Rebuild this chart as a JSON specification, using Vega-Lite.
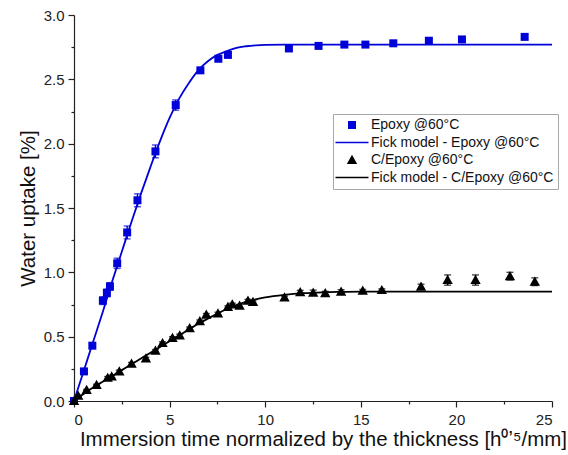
{
  "$schema": "https://vega.github.io/schema/vega-lite/v6.json",
  "width": 478,
  "height": 386,
  "autosize": {"type": "none"},
  "padding": {"left": 74, "top": 15, "right": 16, "bottom": 54},
  "background": "white",
  "config": {
    "view": {"stroke": null},
    "font": "Liberation Sans",
    "axis": {
      "grid": false,
      "domainColor": "#222222",
      "domainWidth": 1.2,
      "tickColor": "#222222",
      "tickWidth": 1.2,
      "labelColor": "#222222",
      "titleColor": "#111111",
      "labelFont": "Liberation Sans",
      "titleFont": "Liberation Sans",
      "labelFontSize": 15,
      "titleFontSize": 20.5,
      "titleFontWeight": "normal"
    }
  },
  "datasets": {
    "points": [
      {"series": "Epoxy @60°C", "t": 0.0, "uptake": 0.0, "err": 0.0},
      {"series": "Epoxy @60°C", "t": 0.52, "uptake": 0.23, "err": 0.02},
      {"series": "Epoxy @60°C", "t": 0.96, "uptake": 0.43, "err": 0.02},
      {"series": "Epoxy @60°C", "t": 1.51, "uptake": 0.78, "err": 0.03},
      {"series": "Epoxy @60°C", "t": 1.72, "uptake": 0.84, "err": 0.03},
      {"series": "Epoxy @60°C", "t": 1.88, "uptake": 0.89, "err": 0.03},
      {"series": "Epoxy @60°C", "t": 2.26, "uptake": 1.07, "err": 0.04},
      {"series": "Epoxy @60°C", "t": 2.78, "uptake": 1.31, "err": 0.05},
      {"series": "Epoxy @60°C", "t": 3.32, "uptake": 1.56, "err": 0.05},
      {"series": "Epoxy @60°C", "t": 4.26, "uptake": 1.94, "err": 0.05},
      {"series": "Epoxy @60°C", "t": 5.32, "uptake": 2.30, "err": 0.04},
      {"series": "Epoxy @60°C", "t": 6.61, "uptake": 2.57, "err": 0.02},
      {"series": "Epoxy @60°C", "t": 7.55, "uptake": 2.66, "err": 0.02},
      {"series": "Epoxy @60°C", "t": 8.05, "uptake": 2.69, "err": 0.02},
      {"series": "Epoxy @60°C", "t": 11.24, "uptake": 2.74, "err": 0.02},
      {"series": "Epoxy @60°C", "t": 12.79, "uptake": 2.76, "err": 0.01},
      {"series": "Epoxy @60°C", "t": 14.14, "uptake": 2.77, "err": 0.01},
      {"series": "Epoxy @60°C", "t": 15.24, "uptake": 2.77, "err": 0.01},
      {"series": "Epoxy @60°C", "t": 16.70, "uptake": 2.78, "err": 0.01},
      {"series": "Epoxy @60°C", "t": 18.56, "uptake": 2.80, "err": 0.015},
      {"series": "Epoxy @60°C", "t": 20.29, "uptake": 2.81, "err": 0.015},
      {"series": "Epoxy @60°C", "t": 23.57, "uptake": 2.83, "err": 0.015},
      {"series": "C/Epoxy @60°C", "t": 0.0, "uptake": 0.0, "err": 0.0},
      {"series": "C/Epoxy @60°C", "t": 0.22, "uptake": 0.04, "err": 0.005},
      {"series": "C/Epoxy @60°C", "t": 0.66, "uptake": 0.085, "err": 0.005},
      {"series": "C/Epoxy @60°C", "t": 1.18, "uptake": 0.125, "err": 0.005},
      {"series": "C/Epoxy @60°C", "t": 1.76, "uptake": 0.18, "err": 0.01},
      {"series": "C/Epoxy @60°C", "t": 1.97, "uptake": 0.19, "err": 0.01},
      {"series": "C/Epoxy @60°C", "t": 2.37, "uptake": 0.23, "err": 0.01},
      {"series": "C/Epoxy @60°C", "t": 3.01, "uptake": 0.29, "err": 0.01},
      {"series": "C/Epoxy @60°C", "t": 3.76, "uptake": 0.33, "err": 0.01},
      {"series": "C/Epoxy @60°C", "t": 4.26, "uptake": 0.39, "err": 0.01},
      {"series": "C/Epoxy @60°C", "t": 4.63, "uptake": 0.45, "err": 0.01},
      {"series": "C/Epoxy @60°C", "t": 5.15, "uptake": 0.49, "err": 0.01},
      {"series": "C/Epoxy @60°C", "t": 5.53, "uptake": 0.51, "err": 0.01},
      {"series": "C/Epoxy @60°C", "t": 6.05, "uptake": 0.565, "err": 0.01},
      {"series": "C/Epoxy @60°C", "t": 6.58, "uptake": 0.62, "err": 0.01},
      {"series": "C/Epoxy @60°C", "t": 6.92, "uptake": 0.67, "err": 0.01},
      {"series": "C/Epoxy @60°C", "t": 7.53, "uptake": 0.68, "err": 0.01},
      {"series": "C/Epoxy @60°C", "t": 8.05, "uptake": 0.73, "err": 0.01},
      {"series": "C/Epoxy @60°C", "t": 8.28, "uptake": 0.75, "err": 0.01},
      {"series": "C/Epoxy @60°C", "t": 8.66, "uptake": 0.74, "err": 0.01},
      {"series": "C/Epoxy @60°C", "t": 9.10, "uptake": 0.78, "err": 0.01},
      {"series": "C/Epoxy @60°C", "t": 9.36, "uptake": 0.77, "err": 0.01},
      {"series": "C/Epoxy @60°C", "t": 11.01, "uptake": 0.805, "err": 0.01},
      {"series": "C/Epoxy @60°C", "t": 11.83, "uptake": 0.845, "err": 0.015},
      {"series": "C/Epoxy @60°C", "t": 12.51, "uptake": 0.842, "err": 0.02},
      {"series": "C/Epoxy @60°C", "t": 13.14, "uptake": 0.837, "err": 0.015},
      {"series": "C/Epoxy @60°C", "t": 13.97, "uptake": 0.85, "err": 0.015},
      {"series": "C/Epoxy @60°C", "t": 15.10, "uptake": 0.857, "err": 0.01},
      {"series": "C/Epoxy @60°C", "t": 16.10, "uptake": 0.862, "err": 0.01},
      {"series": "C/Epoxy @60°C", "t": 18.15, "uptake": 0.888, "err": 0.02},
      {"series": "C/Epoxy @60°C", "t": 19.54, "uptake": 0.94, "err": 0.04},
      {"series": "C/Epoxy @60°C", "t": 21.00, "uptake": 0.94, "err": 0.04},
      {"series": "C/Epoxy @60°C", "t": 22.80, "uptake": 0.97, "err": 0.03},
      {"series": "C/Epoxy @60°C", "t": 24.10, "uptake": 0.927, "err": 0.03}
    ],
    "fits": [
      {"series": "Fick model - Epoxy @60°C", "t": 0, "uptake": 0},
      {"series": "Fick model - Epoxy @60°C", "t": 0.5, "uptake": 0.23},
      {"series": "Fick model - Epoxy @60°C", "t": 1, "uptake": 0.46},
      {"series": "Fick model - Epoxy @60°C", "t": 1.5, "uptake": 0.69},
      {"series": "Fick model - Epoxy @60°C", "t": 2, "uptake": 0.93},
      {"series": "Fick model - Epoxy @60°C", "t": 2.5, "uptake": 1.16},
      {"series": "Fick model - Epoxy @60°C", "t": 3, "uptake": 1.39},
      {"series": "Fick model - Epoxy @60°C", "t": 3.5, "uptake": 1.61},
      {"series": "Fick model - Epoxy @60°C", "t": 4, "uptake": 1.82},
      {"series": "Fick model - Epoxy @60°C", "t": 4.5, "uptake": 2.02},
      {"series": "Fick model - Epoxy @60°C", "t": 5, "uptake": 2.2},
      {"series": "Fick model - Epoxy @60°C", "t": 5.5, "uptake": 2.35},
      {"series": "Fick model - Epoxy @60°C", "t": 6, "uptake": 2.47},
      {"series": "Fick model - Epoxy @60°C", "t": 6.5, "uptake": 2.57},
      {"series": "Fick model - Epoxy @60°C", "t": 7, "uptake": 2.64},
      {"series": "Fick model - Epoxy @60°C", "t": 7.5, "uptake": 2.69},
      {"series": "Fick model - Epoxy @60°C", "t": 8, "uptake": 2.72},
      {"series": "Fick model - Epoxy @60°C", "t": 8.5, "uptake": 2.745},
      {"series": "Fick model - Epoxy @60°C", "t": 9, "uptake": 2.757},
      {"series": "Fick model - Epoxy @60°C", "t": 9.5, "uptake": 2.764},
      {"series": "Fick model - Epoxy @60°C", "t": 10, "uptake": 2.768},
      {"series": "Fick model - Epoxy @60°C", "t": 11, "uptake": 2.77},
      {"series": "Fick model - Epoxy @60°C", "t": 12, "uptake": 2.77},
      {"series": "Fick model - Epoxy @60°C", "t": 25, "uptake": 2.77},
      {"series": "Fick model - C/Epoxy @60°C", "t": 0, "uptake": 0},
      {"series": "Fick model - C/Epoxy @60°C", "t": 0.5, "uptake": 0.055},
      {"series": "Fick model - C/Epoxy @60°C", "t": 1, "uptake": 0.105},
      {"series": "Fick model - C/Epoxy @60°C", "t": 1.5, "uptake": 0.15},
      {"series": "Fick model - C/Epoxy @60°C", "t": 2, "uptake": 0.195},
      {"series": "Fick model - C/Epoxy @60°C", "t": 2.5, "uptake": 0.24},
      {"series": "Fick model - C/Epoxy @60°C", "t": 3, "uptake": 0.285},
      {"series": "Fick model - C/Epoxy @60°C", "t": 3.5, "uptake": 0.33},
      {"series": "Fick model - C/Epoxy @60°C", "t": 4, "uptake": 0.375},
      {"series": "Fick model - C/Epoxy @60°C", "t": 4.5, "uptake": 0.42},
      {"series": "Fick model - C/Epoxy @60°C", "t": 5, "uptake": 0.465},
      {"series": "Fick model - C/Epoxy @60°C", "t": 5.5, "uptake": 0.51},
      {"series": "Fick model - C/Epoxy @60°C", "t": 6, "uptake": 0.555},
      {"series": "Fick model - C/Epoxy @60°C", "t": 6.5, "uptake": 0.6},
      {"series": "Fick model - C/Epoxy @60°C", "t": 7, "uptake": 0.64},
      {"series": "Fick model - C/Epoxy @60°C", "t": 7.5, "uptake": 0.68},
      {"series": "Fick model - C/Epoxy @60°C", "t": 8, "uptake": 0.715},
      {"series": "Fick model - C/Epoxy @60°C", "t": 8.5, "uptake": 0.745},
      {"series": "Fick model - C/Epoxy @60°C", "t": 9, "uptake": 0.77},
      {"series": "Fick model - C/Epoxy @60°C", "t": 9.5, "uptake": 0.79},
      {"series": "Fick model - C/Epoxy @60°C", "t": 10, "uptake": 0.805},
      {"series": "Fick model - C/Epoxy @60°C", "t": 11, "uptake": 0.825},
      {"series": "Fick model - C/Epoxy @60°C", "t": 12, "uptake": 0.838},
      {"series": "Fick model - C/Epoxy @60°C", "t": 13, "uptake": 0.845},
      {"series": "Fick model - C/Epoxy @60°C", "t": 14, "uptake": 0.848},
      {"series": "Fick model - C/Epoxy @60°C", "t": 15, "uptake": 0.85},
      {"series": "Fick model - C/Epoxy @60°C", "t": 25, "uptake": 0.85}
    ]
  },
  "encoding": {
    "x": {
      "field": "t",
      "type": "quantitative",
      "scale": {"domain": [0, 25], "nice": false, "zero": false},
      "axis": {
        "title": "Immersion time normalized by the thickness [h⁰ʼ⁵/mm]",
        "values": [0, 2.5, 5, 7.5, 10, 12.5, 15, 17.5, 20, 22.5, 25],
        "format": "d",
        "labelExpr": "datum.value % 5 === 0 ? datum.label : ''",
        "tickSize": {"condition": {"test": "datum.value % 5 === 0", "value": 6}, "value": 3},
        "labelPadding": 5,
        "titlePadding": 2,
        "titleX": 249
      }
    },
    "y": {
      "field": "uptake",
      "type": "quantitative",
      "scale": {"domain": [0, 3], "nice": false},
      "axis": {
        "title": "Water uptake [%]",
        "values": [0, 0.25, 0.5, 0.75, 1, 1.25, 1.5, 1.75, 2, 2.25, 2.5, 2.75, 3],
        "format": ".1f",
        "labelExpr": "round(datum.value * 4) % 2 === 0 ? datum.label : ''",
        "tickSize": {"condition": {"test": "round(datum.value * 4) % 2 === 0", "value": 6}, "value": 3},
        "labelPadding": 4,
        "titlePadding": 5
      }
    }
  },
  "layer": [
    {
      "data": {"name": "fits"},
      "mark": {"type": "line", "strokeWidth": 1.8, "interpolate": "monotone"},
      "encoding": {
        "stroke": {
          "field": "series",
          "type": "nominal",
          "scale": {"domain": ["Fick model - Epoxy @60°C", "Fick model - C/Epoxy @60°C"], "range": ["#0000d8", "#000000"]},
          "legend": null
        }
      }
    },
    {
      "data": {"name": "points"},
      "transform": [{"filter": "datum.series === 'Epoxy @60°C'"}],
      "mark": {"type": "errorbar", "ticks": {"size": 7}, "thickness": 1.4},
      "encoding": {
        "yError": {"field": "err"},
        "color": {"value": "#0000d8"}
      }
    },
    {
      "data": {"name": "points"},
      "transform": [{"filter": "datum.series === 'C/Epoxy @60°C'"}],
      "mark": {"type": "errorbar", "ticks": {"size": 7}, "thickness": 1.4},
      "encoding": {
        "yError": {"field": "err"},
        "color": {"value": "#000000"}
      }
    },
    {
      "data": {"name": "points"},
      "mark": {"type": "point", "filled": true, "opacity": 1, "size": 64},
      "encoding": {
        "color": {
          "field": "series",
          "type": "nominal",
          "scale": {
            "domain": ["Epoxy @60°C", "Fick model - Epoxy @60°C", "C/Epoxy @60°C", "Fick model - C/Epoxy @60°C"],
            "range": ["#0000d8", "#0000d8", "#000000", "#000000"]
          },
          "legend": {
            "title": null,
            "orient": "none",
            "legendX": 259,
            "legendY": 99,
            "symbolSize": 64,
            "symbolStrokeWidth": 0,
            "labelFontSize": 14,
            "labelLimit": 400,
            "labelColor": "#111111",
            "labelFont": "Liberation Sans",
            "strokeColor": "#a8a8a8",
            "fillColor": "white",
            "padding": 4,
            "rowPadding": 3.5,
            "symbolOffset": 8,
            "labelOffset": 12
          }
        },
        "shape": {
          "field": "series",
          "type": "nominal",
          "scale": {
            "domain": ["Epoxy @60°C", "Fick model - Epoxy @60°C", "C/Epoxy @60°C", "Fick model - C/Epoxy @60°C"],
            "range": ["M-1,-1H1V1H-1Z", "M-4.125,-0.2H4.125V0.2H-4.125Z", "M0,-1.3L1.3,1H-1.3Z", "M-4.125,-0.2H4.125V0.2H-4.125Z"]
          },
          "legend": {
            "title": null,
            "orient": "none",
            "legendX": 259,
            "legendY": 99,
            "symbolSize": 64,
            "symbolStrokeWidth": 0,
            "labelFontSize": 14,
            "labelLimit": 400,
            "labelColor": "#111111",
            "labelFont": "Liberation Sans",
            "strokeColor": "#a8a8a8",
            "fillColor": "white",
            "padding": 4,
            "rowPadding": 3.5,
            "symbolOffset": 8,
            "labelOffset": 12
          }
        }
      }
    }
  ]
}
